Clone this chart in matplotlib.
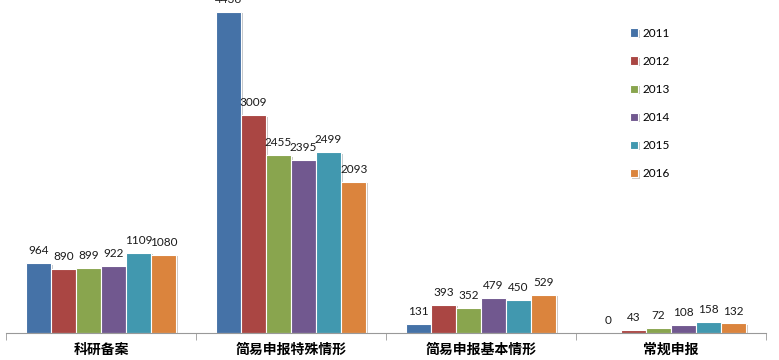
import numpy as np
import matplotlib
matplotlib.use("Agg")
import matplotlib.pyplot as plt
import matplotlib.patheffects as pe

categories = ["科研备案", "简易申报特殊情形", "简易申报基本情形", "常规申报"]
years = ["2011", "2012", "2013", "2014", "2015", "2016"]
values = {
    "2011": [964, 4436, 131, 0],
    "2012": [890, 3009, 393, 43],
    "2013": [899, 2455, 352, 72],
    "2014": [922, 2395, 479, 108],
    "2015": [1109, 2499, 450, 158],
    "2016": [1080, 2093, 529, 132],
}
colors = ["#4572A7", "#AA4643", "#89A54E", "#71588F", "#4198AF", "#DB843D"]

fig = plt.figure(figsize=(7.79, 3.6), dpi=100)
ax = fig.add_axes([6 / 779, 27 / 360, 760 / 779, 333 / 360])

x = np.arange(len(categories))
width = 0.132
shadow = [pe.SimplePatchShadow(offset=(1.5, -1), alpha=0.25), pe.Normal()]
for i, yr in enumerate(years):
    pos = x + (i - 2.5) * width
    bars = ax.bar(pos, values[yr], width, color=colors[i], edgecolor="white",
                  linewidth=0.8, label=yr, zorder=2)
    for b in bars:
        b.set_path_effects(shadow)
    for px, v in zip(pos, values[yr]):
        ax.annotate(str(v), (px, v), xytext=(0, 5), textcoords="offset points",
                    ha="center", va="bottom", fontsize=8.5, family="Lato",
                    color="#1a1a1a")

ax.set_xlim(-0.5, 3.5)
ax.set_ylim(0, 4436 * 333 / 321)
ax.set_yticks([])
for s in ("top", "right", "left"):
    ax.spines[s].set_visible(False)
ax.spines["bottom"].set_color("#999999")
ax.set_xticks(x)
ax.set_xticklabels(categories, family=["Noto Sans CJK SC", "DejaVu Sans"],
                   fontweight="bold", fontsize=10)
ax.tick_params(axis="x", which="major", length=0, pad=7)
ax.set_xticks(np.arange(-0.5, 4, 1), minor=True)
ax.tick_params(axis="x", which="minor", length=5, direction="out", color="#999999")

# legend sits inside the plot area, top right
ax.legend(loc="upper left", bbox_to_anchor=(619 / 779, 1 - 17 / 360),
          bbox_transform=fig.transFigure, frameon=False,
          handlelength=0.7, handleheight=0.7, handletextpad=0.4,
          labelspacing=1.45, prop={"family": "Lato", "size": 8.5})

fig.savefig("out.png", dpi=100, facecolor="white")
